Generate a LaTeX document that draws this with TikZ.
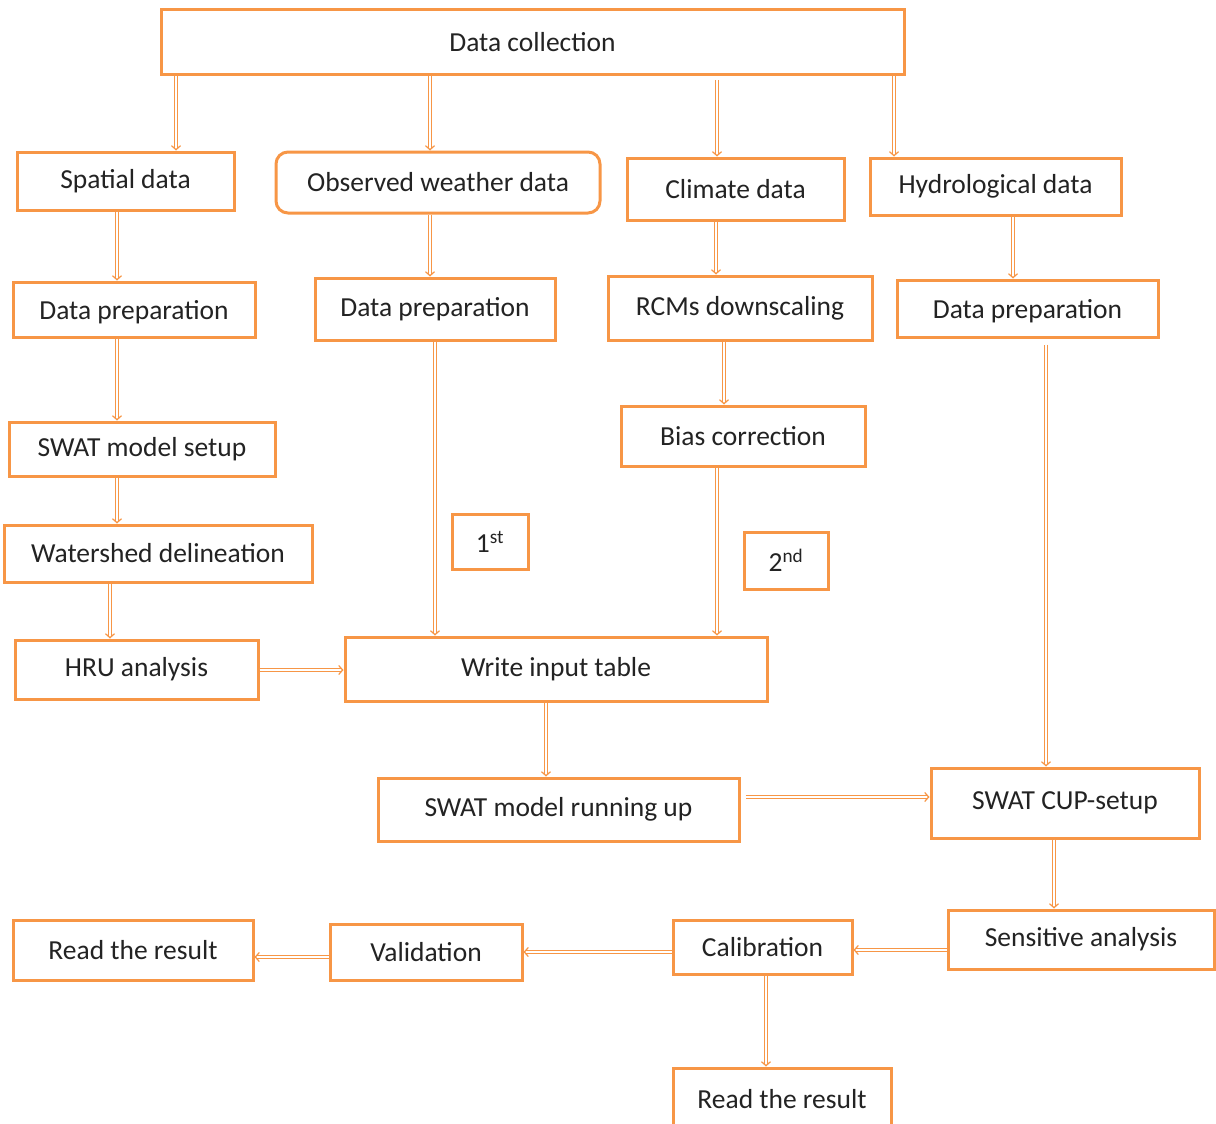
\documentclass[tikz,border=0pt]{standalone}
\usepackage{fontspec}
\setmainfont{Carlito}
\usetikzlibrary{arrows.meta}
\definecolor{org}{RGB}{247,150,70}
\definecolor{txt}{RGB}{35,35,35}
\begin{document}
\begin{tikzpicture}[x=1pt,y=-1pt,
 box/.style={draw=org, line width=3pt, fill=white, text=txt, font=\fontsize{27.5}{32}\selectfont, inner sep=0pt},
 arr/.style={draw=org, double=white, double distance=2.2pt, line width=1.2pt, -{Straight Barb[length=4pt,width=9pt]}}]
\useasboundingbox (0,0) rectangle (1216,1124);
\node[box, minimum width=743, minimum height=65] (dc) at (532.5,42.5) {Data collection};
\node[box, minimum width=217, minimum height=58] (sp) at (125.5,181) {Spatial data};
\node[box, rounded corners=12pt, minimum width=324, minimum height=61] (ow) at (438,182.5) {Observed weather data};
\node[box, minimum width=217, minimum height=62] (cl) at (735.5,189) {Climate data};
\node[box, minimum width=251, minimum height=57] (hy) at (995.5,186.5) {Hydrological data};
\node[box, minimum width=242, minimum height=55, text depth=-4pt] (dp1) at (134,309.5) {Data preparation};
\node[box, minimum width=240, minimum height=62] (dp2) at (435,309) {Data preparation};
\node[box, minimum width=264, minimum height=64] (rcm) at (740,308) {RCMs downscaling};
\node[box, minimum width=261, minimum height=57, text depth=-4pt] (dp3) at (1027.5,308.5) {Data preparation};
\node[box, minimum width=266, minimum height=54] (sws) at (142,449) {SWAT model setup};
\node[box, minimum width=244, minimum height=60] (bias) at (743,436) {Bias correction};
\node[box, minimum width=308, minimum height=57] (wd) at (158,553.5) {Watershed delineation};
\node[box, minimum width=76, minimum height=55] (st1) at (490,541.5) {1\textsuperscript{st}};
\node[box, minimum width=84, minimum height=57] (nd2) at (786,560.5) {2\textsuperscript{nd}};
\node[box, minimum width=243, minimum height=59] (hru) at (136.5,669.5) {HRU analysis};
\node[box, minimum width=422, minimum height=64] (wit) at (556,669) {Write input table};
\node[box, minimum width=361, minimum height=63] (run) at (558.5,809.5) {SWAT model running up};
\node[box, minimum width=268, minimum height=70] (cup) at (1065,803) {SWAT CUP-setup};
\node[box, minimum width=266, minimum height=59] (sen) at (1081,939.5) {Sensitive analysis};
\node[box, minimum width=179, minimum height=54] (cal) at (762.5,947) {Calibration};
\node[box, minimum width=192, minimum height=56] (val) at (426,952) {Validation};
\node[box, minimum width=240, minimum height=60] (rr1) at (133,950) {Read the result};
\node[box, minimum width=218, minimum height=62] (rr2) at (782,1099) {Read the result};
\foreach \n/\x in {a1/176,a2/430,a3/717,a4/894,a5/117,a6/430,a7/716,a8/1013,a9/117,a10/724,a11/117,a12/110,a13/435,a14/717,a15/546,a16/1046,a17/1054,a18/766}
  \coordinate (\n) at (\x,0);
\foreach \n/\y in {h1/670,h2/797,h3/950,h4/952,h5/957}
  \coordinate (\n) at (0,\y);
\draw[arr] (dc.south -| a1) -- (sp.north -| a1);
\draw[arr] (dc.south -| a2) -- (ow.north -| a2);
\draw[arr, shorten <=4pt] (dc.south -| a3) -- (cl.north -| a3);
\draw[arr] (dc.south -| a4) -- (hy.north -| a4);
\draw[arr] (sp.south -| a5) -- (dp1.north -| a5);
\draw[arr] (ow.south -| a6) -- (dp2.north -| a6);
\draw[arr] (cl.south -| a7) -- (rcm.north -| a7);
\draw[arr] (hy.south -| a8) -- (dp3.north -| a8);
\draw[arr] (dp1.south -| a9) -- (sws.north -| a9);
\draw[arr] (rcm.south -| a10) -- (bias.north -| a10);
\draw[arr] (sws.south -| a11) -- (wd.north -| a11);
\draw[arr] (wd.south -| a12) -- (hru.north -| a12);
\draw[arr] (dp2.south -| a13) -- (wit.north -| a13);
\draw[arr] (bias.south -| a14) -- (wit.north -| a14);
\draw[arr] (wit.south -| a15) -- (run.north -| a15);
\draw[arr, shorten <=6pt] (dp3.south -| a16) -- (cup.north -| a16);
\draw[arr] (cup.south -| a17) -- (sen.north -| a17);
\draw[arr] (cal.south -| a18) -- (rr2.north -| a18);
\draw[arr] (hru.east |- h1) -- (wit.west |- h1);
\draw[arr, shorten <=5pt] (run.east |- h2) -- (cup.west |- h2);
\draw[arr] (sen.west |- h3) -- (cal.east |- h3);
\draw[arr] (cal.west |- h4) -- (val.east |- h4);
\draw[arr] (val.west |- h5) -- (rr1.east |- h5);
\end{tikzpicture}
\end{document}
